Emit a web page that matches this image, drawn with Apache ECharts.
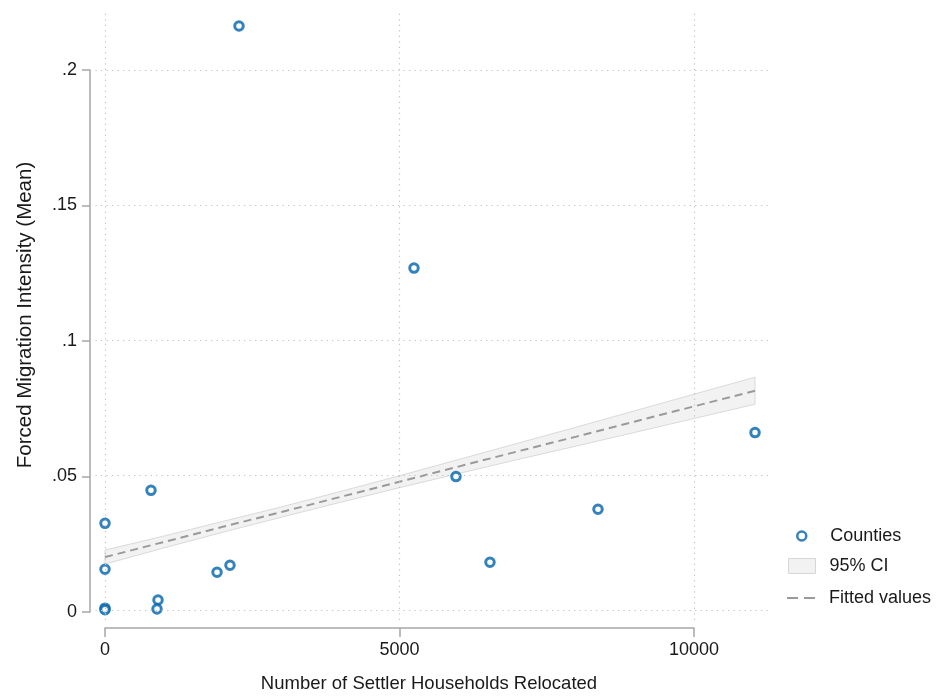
<!DOCTYPE html>
<html>
<head>
<meta charset="utf-8">
<script src="https://cdn.jsdelivr.net/npm/echarts@6/dist/echarts.min.js"></script>
<style>html,body{margin:0;padding:0;background:#fff}#c{width:937px;height:698px}</style>
</head>
<body>
<div id="c"></div>
<script>
// Scatter points: Number of Settler Households Relocated vs Forced Migration Intensity (Mean)
var countyX = [2275, 5246, 11036, 5959, 8370, 6536, 781, 0, 0, 0, 0, 900, 883, 1902, 2122];
var countyY = [0.2162, 0.1266, 0.0657, 0.0494, 0.0373, 0.0177, 0.0443, 0.0321, 0.0151, 0.0007, 0.0001, 0.0037, 0.0004, 0.0140, 0.0166];
// Fitted values and 95% CI
var fitX  = [0, 1000, 2000, 3000, 4000, 5000, 6000, 7000, 8000, 9000, 10000, 11036];
var fitY  = [0.0196, 0.0252, 0.0308, 0.0363, 0.0419, 0.0475, 0.0531, 0.0587, 0.0642, 0.0698, 0.0754, 0.0812];
var ciLo  = [0.0170, 0.0230, 0.0288, 0.0344, 0.0399, 0.0453, 0.0505, 0.0557, 0.0607, 0.0658, 0.0709, 0.0762];
var ciHi  = [0.0222, 0.0274, 0.0328, 0.0382, 0.0439, 0.0497, 0.0557, 0.0617, 0.0677, 0.0738, 0.0799, 0.0862];
// Ticks
var xTicks = [0, 5000, 10000];
var xTickLabels = ['0', '5000', '10000'];
var yTicks = [0, 0.05, 0.1, 0.15, 0.2];
var yTickLabels = ['0', '.05', '.1', '.15', '.2'];

var FONT = '"Liberation Sans", Arial, sans-serif';
var BLUE = '#0063aa';
var AXIS = '#a6a6a6';
var TXT = '#1a1a1a';

// Pixel layout of the offset axes (Stata style) and the full plot region
var plotL = 90, plotT = 10, plotR = 768, plotB = 622;
var axL = 105, axR = 694, axT = 70, axB = 612;
var xMin = xTicks[0] - (axL - plotL) / (axR - axL) * (xTicks[2] - xTicks[0]);
var xMax = xTicks[0] + (plotR - axL) / (axR - axL) * (xTicks[2] - xTicks[0]);
var yMin = yTicks[0] - (plotB - axB) / (axB - axT) * (yTicks[4] - yTicks[0]);
var yMax = yTicks[0] + (axB - plotT) / (axB - axT) * (yTicks[4] - yTicks[0]);

function labelFor(ticks, labels) {
  return function (v) {
    for (var i = 0; i < ticks.length; i++) { if (Math.abs(v - ticks[i]) < 1e-9) return labels[i]; }
    return '';
  };
}

var gridMarks = xTicks.map(function (v) { return { xAxis: v }; })
  .concat(yTicks.map(function (v) { return { yAxis: v }; }));

var chart = echarts.init(document.getElementById('c'), null, { renderer: 'canvas' });
chart.setOption({
  animation: false,
  backgroundColor: '#fff',
  textStyle: { fontFamily: FONT },
  grid: [
    { left: plotL, top: plotT, width: plotR - plotL, height: plotB - plotT },
    { left: axL, top: axT, width: axR - axL, height: axB - axT }
  ],
  xAxis: [
    {
      gridIndex: 0, type: 'value', min: xMin, max: xMax,
      axisLine: { show: false }, axisTick: { show: false }, axisLabel: { show: false }, splitLine: { show: false },
      name: 'Number of Settler Households Relocated', nameLocation: 'middle', nameGap: 54,
      nameTextStyle: { fontFamily: FONT, fontSize: 18.5, color: TXT }
    },
    {
      gridIndex: 1, type: 'value', min: 0, max: 10000, interval: 5000, offset: 16, position: 'bottom',
      axisLine: { show: true, onZero: false, lineStyle: { color: AXIS, width: 1.5 } },
      axisTick: { show: true, length: 9, lineStyle: { color: AXIS, width: 1.5 } },
      axisLabel: { show: true, margin: 13, fontFamily: FONT, fontSize: 18, color: TXT, formatter: labelFor(xTicks, xTickLabels) },
      splitLine: { show: false }
    }
  ],
  yAxis: [
    {
      gridIndex: 0, type: 'value', min: yMin, max: yMax,
      axisLine: { show: false }, axisTick: { show: false }, axisLabel: { show: false }, splitLine: { show: false },
      name: 'Forced Migration Intensity (Mean)', nameLocation: 'middle', nameGap: 54,
      nameTextStyle: { fontFamily: FONT, fontSize: 20.5, color: TXT }
    },
    {
      gridIndex: 1, type: 'value', min: 0, max: 0.2, interval: 0.05, offset: 15, position: 'left',
      axisLine: { show: true, onZero: false, lineStyle: { color: AXIS, width: 1.5 } },
      axisTick: { show: true, length: 8, lineStyle: { color: AXIS, width: 1.5 } },
      axisLabel: { show: true, margin: 13, fontFamily: FONT, fontSize: 18, color: TXT, formatter: labelFor(yTicks, yTickLabels) },
      splitLine: { show: false }
    }
  ],
  legend: [
    {
      orient: 'vertical', left: 796, top: 527, padding: 0, itemWidth: 9, itemHeight: 9,
      textStyle: { fontFamily: FONT, fontSize: 18, color: TXT, padding: [0, 0, 0, 19] },
      selectedMode: false,
      data: [{ name: 'Counties', icon: 'circle', itemStyle: { color: '#fff', borderColor: BLUE, borderWidth: 2.5 } }]
    },
    {
      orient: 'vertical', left: 788, top: 557, padding: 0, itemWidth: 27, itemHeight: 15,
      textStyle: { fontFamily: FONT, fontSize: 18, color: TXT, padding: [0, 0, 0, 9] },
      selectedMode: false,
      data: [{ name: '95% CI', icon: 'rect', itemStyle: { color: '#f2f2f2', borderColor: '#d6d6d6', borderWidth: 1 } }]
    },
    {
      orient: 'vertical', left: 787, top: 589, padding: 0, itemWidth: 28, itemHeight: 2,
      textStyle: { fontFamily: FONT, fontSize: 18, color: TXT, padding: [0, 0, 0, 9] },
      selectedMode: false,
      data: [{ name: 'Fitted values', icon: 'path://M0,0H11V2H0Z M17,0H28V2H17Z', itemStyle: { color: '#9a9a9a', borderWidth: 0 } }]
    }
  ],
  series: [
    {
      name: 'gridlines', type: 'line', xAxisIndex: 0, yAxisIndex: 0, data: [], z: 0, silent: true,
      markLine: {
        silent: true, symbol: 'none', label: { show: false },
        lineStyle: { color: '#c4c4c4', width: 1.2, type: [1.3, 4.2] },
        data: gridMarks
      }
    },
    {
      name: '95% CI', type: 'custom', xAxisIndex: 0, yAxisIndex: 0, z: 1, silent: true,
      data: [[fitX[0], fitY[0]]],
      renderItem: function (params, api) {
        var pts = [];
        for (var i = 0; i < fitX.length; i++) pts.push(api.coord([fitX[i], ciHi[i]]));
        for (var j = fitX.length - 1; j >= 0; j--) pts.push(api.coord([fitX[j], ciLo[j]]));
        return {
          type: 'polygon',
          shape: { points: pts },
          style: { fill: '#f2f2f2', stroke: '#dadada', lineWidth: 1 }
        };
      }
    },
    {
      name: 'Fitted values', type: 'line', xAxisIndex: 0, yAxisIndex: 0, z: 2, silent: true,
      showSymbol: false, symbol: 'none',
      data: fitX.map(function (x, i) { return [x, fitY[i]]; }),
      lineStyle: { color: '#9a9a9a', width: 2, type: [8, 5] }
    },
    {
      name: 'Counties', type: 'scatter', xAxisIndex: 0, yAxisIndex: 0, z: 3,
      symbol: 'circle', symbolSize: 8.5,
      data: countyX.map(function (x, i) { return [x, countyY[i]]; }),
      itemStyle: { color: '#fff', borderColor: BLUE, borderWidth: 3 }
    }
  ]
});
</script>
</body>
</html>
